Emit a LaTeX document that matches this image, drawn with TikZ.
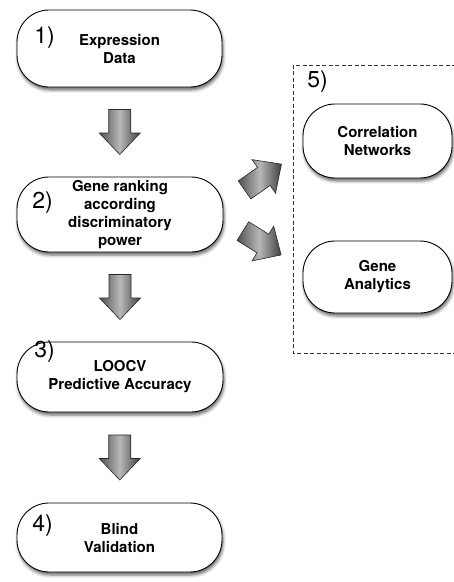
\documentclass[tikz,border=0pt]{standalone}
\usepackage{fontspec}
\setmainfont{TeX Gyre Heros}
\usetikzlibrary{calc}
\usetikzlibrary{shadows.blur}
\newcommand{\bigarrow}[3]{\coordinate (#1) at #2; \shade[arrowshade, shift={(#1)}, rotate=#3] (-22.5,-11) -- (1,-11) -- (1,-20.5) -- (22.5,0) -- (1,20.5) -- (1,11) -- (-22.5,11) -- cycle;}
\tikzset{
  stepbox/.style={draw=black, line width=0.9pt, fill=white, rounded corners=32pt, align=center, inner sep=0pt,
    font=\fontsize{15}{18}\selectfont\bfseries,
    blur shadow={shadow xshift=1pt, shadow yshift=-3pt, shadow blur radius=3pt, shadow opacity=60}},
  numtext/.style={font=\fontsize{23}{23}\selectfont, anchor=east, inner sep=0pt},
  arrowshade/.style={draw=black!85, line width=0.6pt, left color=black!68, right color=black!75, middle color=black!28},
  groupframe/.style={draw=black!80, line width=0.7pt, dash pattern=on 4pt off 2.5pt},
}
\begin{document}
\begin{tikzpicture}[x=1pt, y=-1pt]
    \useasboundingbox (0,0) rectangle (454,582);
    % left column
    \node[stepbox, minimum width=205pt, minimum height=77pt] (b1) at (119.5,48.5) {Expression\\Data};
    \node[stepbox, minimum width=206pt, minimum height=75pt] (b2) at (120,214.5) {Gene ranking\\according\\discriminatory\\power};
    \node[stepbox, minimum width=206pt, minimum height=70pt] (b3) at (120,377) {LOOCV\\Predictive Accuracy};
    \node[stepbox, minimum width=205pt, minimum height=69pt] (b4) at (119.5,537.5) {Blind\\Validation};
    % right group
    \draw[groupframe] (456,65) -- (293,65) -- (293,353) -- (456,353);
    \node[stepbox, minimum width=149pt, minimum height=74pt] (b5a) at (377.5,141) {Correlation\\Networks};
    \node[stepbox, minimum width=149pt, minimum height=72pt] (b5b) at (377.5,277) {Gene\\Analytics};
    % numbers
    \node[numtext] (n1) at (55,38) {1)};
    \node[numtext] (n2) at (53,202.5) {2)};
    \node[numtext] (n3) at (55,352) {3)};
    \node[numtext] (n4) at (53,526) {4)};
    \node[numtext] (n5) at (328,82) {5)};
    % arrows
    \bigarrow{a1}{($(b1.south)!0.5!(b2.north)$)}{-90}
    \bigarrow{a2}{($(b2.south)!0.5!(b3.north)$)}{-90}
    \bigarrow{a3}{($(b3.south)!0.5!(b4.north)$)}{-90}
    \bigarrow{a4}{(263,177)}{35}
    \bigarrow{a5}{(262,243)}{-32}
\end{tikzpicture}
\end{document}
